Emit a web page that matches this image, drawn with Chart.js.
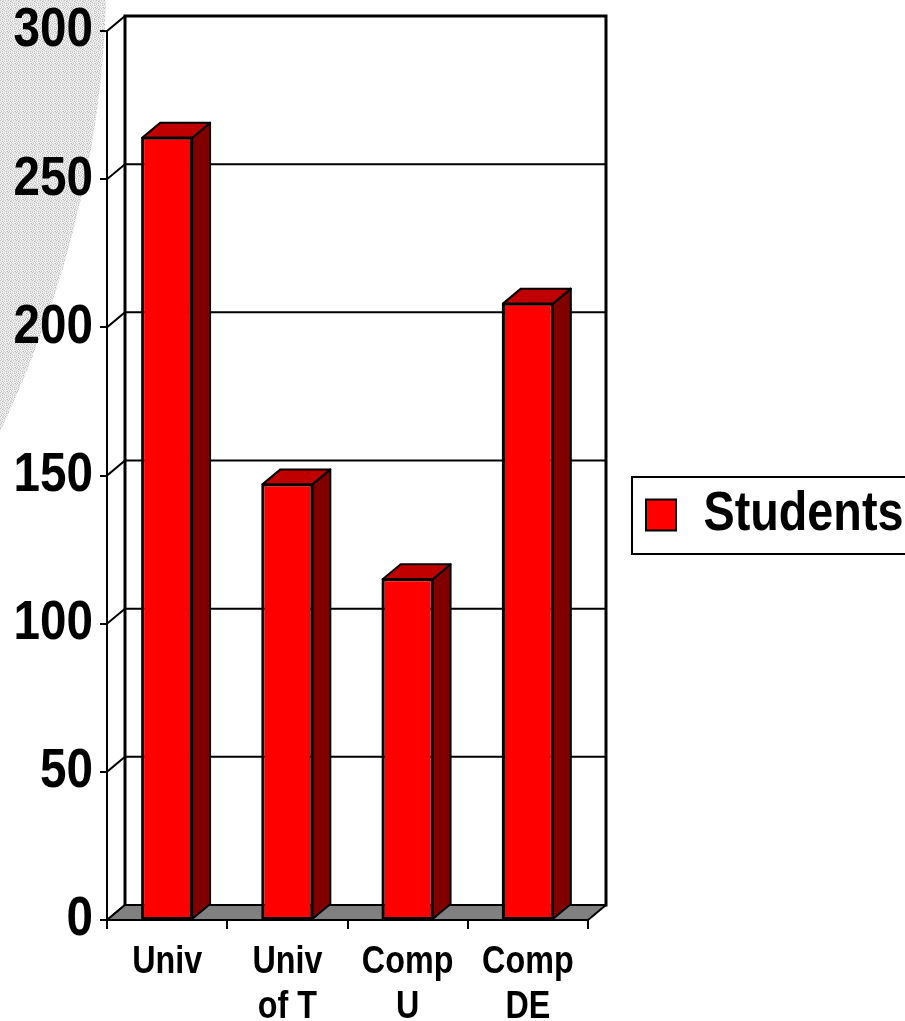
<!DOCTYPE html>
<html><head><meta charset="utf-8">
<script src="https://cdn.jsdelivr.net/npm/chart.js@4.4.1/dist/chart.umd.min.js"></script>
<style>html,body{margin:0;padding:0;background:#fff;overflow:hidden}canvas{display:block}</style>
</head><body>
<canvas id="c" width="905" height="1021"></canvas>
<script>
// ---- data ----
const categories = [["Univ"], ["Univ", "of T"], ["Comp", "U"], ["Comp", "DE"]];
const seriesName = "Students";
const studentValues = [264, 147, 115, 208];
const yTickValues = [0, 50, 100, 150, 200, 250, 300];

// ---- style ----
const FONT = "'Liberation Sans', Arial, sans-serif";
const TEXT_SX = 0.85;           // horizontal text condensing (reference type is narrow)
const DX = 18, DY = -15;        // 3-D depth offset

const canvas = document.getElementById('c');
const ctx2d = canvas.getContext('2d');
const nativeFillText = ctx2d.fillText.bind(ctx2d);
ctx2d.fillText = function (text, x, y, maxWidth) {
  const w = this.measureText(text).width * TEXT_SX;
  nativeFillText(text, x, y, maxWidth !== undefined ? Math.min(maxWidth, w) : w);
};

function makeStipple(ctx) {
  const rows = [
    "a.cb.a.c",
    "c.ab.c.b",
    ".b.ca.b.",
    "b.a.c.ac",
    "a.c.b.c.",
    ".ca.b.ab",
    "cb.a.c..",
    ".a.cb.ba"
  ];
  const shade = { a: '#c0c0c0', b: '#d2d2d2', c: '#e4e4e4', '.': '#f4f4f4' };
  const p = document.createElement('canvas');
  p.width = 8; p.height = 8;
  const g = p.getContext('2d');
  rows.forEach((r, yy) => r.split('').forEach((ch, xx) => { g.fillStyle = shade[ch]; g.fillRect(xx, yy, 1, 1); }));
  return ctx.createPattern(p, 'repeat');
}

const scene3d = {
  id: 'scene3d',
  afterLayout(chart) {
    const lg = chart.legend;
    if (lg) { lg.top -= 11; lg.bottom -= 11; }
  },
  beforeDraw(chart) {
    const ctx = chart.ctx;
    ctx.save();
    ctx.fillStyle = '#fff';
    ctx.fillRect(0, 0, chart.width, chart.height);
    ctx.fillStyle = makeStipple(ctx);
    ctx.beginPath();
    ctx.moveTo(0, 0);
    ctx.lineTo(106, 0);
    ctx.quadraticCurveTo(100, 220, 0, 432);
    ctx.closePath();
    ctx.fill();
    ctx.restore();
  },
  beforeDatasetsDraw(chart) {
    const ctx = chart.ctx;
    const ys = chart.scales.y, xs = chart.scales.x;
    const L = xs.left, R = xs.right;
    const T = ys.getPixelForValue(ys.max), B = ys.getPixelForValue(0);
    ctx.save();
    ctx.strokeStyle = '#000';
    ctx.lineCap = 'square';
    ctx.lineWidth = 2;
    ys.ticks.forEach(t => {
      const py = ys.getPixelForValue(t.value);
      ctx.beginPath();
      ctx.moveTo(L, py);
      ctx.lineTo(L + DX, py + DY);
      if (t.value !== 0) ctx.lineTo(R + DX, py + DY);
      ctx.stroke();
    });
    ctx.lineWidth = 3;
    ctx.beginPath();
    ctx.moveTo(L + DX, B + DY);
    ctx.lineTo(L + DX, T + DY);
    ctx.lineTo(R + DX, T + DY);
    ctx.lineTo(R + DX, B + DY);
    ctx.stroke();
    ctx.lineWidth = 2;
    ctx.lineJoin = 'round';
    ctx.fillStyle = '#808080';
    ctx.beginPath();
    ctx.moveTo(L, B);
    ctx.lineTo(R, B);
    ctx.lineTo(R + DX, B + DY);
    ctx.lineTo(L + DX, B + DY);
    ctx.closePath();
    ctx.fill();
    ctx.stroke();
    ctx.restore();
  },
  afterDatasetsDraw(chart) {
    const ctx = chart.ctx;
    ctx.save();
    ctx.strokeStyle = '#000';
    ctx.lineWidth = 2;
    ctx.lineJoin = 'round';
    chart.getDatasetMeta(0).data.forEach(bar => {
      const {x, y, base, width} = bar.getProps(['x', 'y', 'base', 'width'], true);
      const l = x - width / 2, r = x + width / 2;
      ctx.fillStyle = '#800000';
      ctx.beginPath();
      ctx.moveTo(r, y); ctx.lineTo(r + DX, y + DY); ctx.lineTo(r + DX, base + DY); ctx.lineTo(r, base);
      ctx.closePath(); ctx.fill(); ctx.stroke();
      ctx.fillStyle = '#c00000';
      ctx.beginPath();
      ctx.moveTo(l, y); ctx.lineTo(l + DX, y + DY); ctx.lineTo(r + DX, y + DY); ctx.lineTo(r, y);
      ctx.closePath(); ctx.fill(); ctx.stroke();
      ctx.strokeRect(l, y, width, base - y);
    });
    ctx.restore();
  },
  afterDraw(chart) {
    const lg = chart.legend;
    if (!lg || !lg.legendHitBoxes || !lg.legendHitBoxes.length) return;
    const hb = lg.legendHitBoxes[0];
    const ctx = chart.ctx;
    const cy = hb.top + hb.height / 2;
    ctx.save();
    ctx.strokeStyle = '#000';
    ctx.lineWidth = 2;
    ctx.strokeRect(hb.left - 14, cy - 38, 400, 77);
    ctx.restore();
  }
};

new Chart(canvas, {
  type: 'bar',
  data: {
    labels: categories,
    datasets: [{
      label: seriesName,
      data: studentValues,
      backgroundColor: '#ff0000',
      borderColor: '#000000',
      borderWidth: 2,
      borderSkipped: false,
      categoryPercentage: 1,
      barPercentage: 0.415
    }]
  },
  options: {
    responsive: false,
    devicePixelRatio: 1,
    animation: false,
    layout: { padding: { top: 31, left: 0, right: 0, bottom: 0 } },
    plugins: {
      tooltip: { enabled: false },
      legend: {
        position: 'right',
        maxWidth: 317,
        labels: {
          color: '#000',
          boxWidth: 30,
          boxHeight: 31,
          padding: 58,
          font: { family: FONT, size: 55, weight: 'bold' }
        }
      }
    },
    scales: {
      x: {
        offset: true,
        grid: { offset: true, drawOnChartArea: false, drawTicks: true, tickLength: 9, color: '#000', lineWidth: 2 },
        border: { display: true, color: '#000', width: 2 },
        ticks: {
          color: '#000', autoSkip: false, maxRotation: 0, minRotation: 0, padding: 11,
          font: { family: FONT, size: 38, weight: 'bold', lineHeight: 45 / 38 }
        },
        afterFit(scale) { scale.height = 101; scale.paddingLeft = 0; scale.paddingRight = 0; }
      },
      y: {
        min: 0, max: 300,
        afterBuildTicks(scale) { scale.ticks = yTickValues.map(v => ({ value: v })); },
        grid: { drawOnChartArea: false, drawTicks: true, tickLength: 7, color: '#000', lineWidth: 2 },
        border: { display: true, color: '#000', width: 2 },
        ticks: {
          color: '#000', padding: 7,
          font: { family: FONT, size: 56, weight: 'bold' }
        },
        afterFit(scale) { scale.width = 107; scale.paddingTop = 0; scale.paddingBottom = 0; }
      }
    }
  },
  plugins: [scene3d]
});
</script>
</body></html>
